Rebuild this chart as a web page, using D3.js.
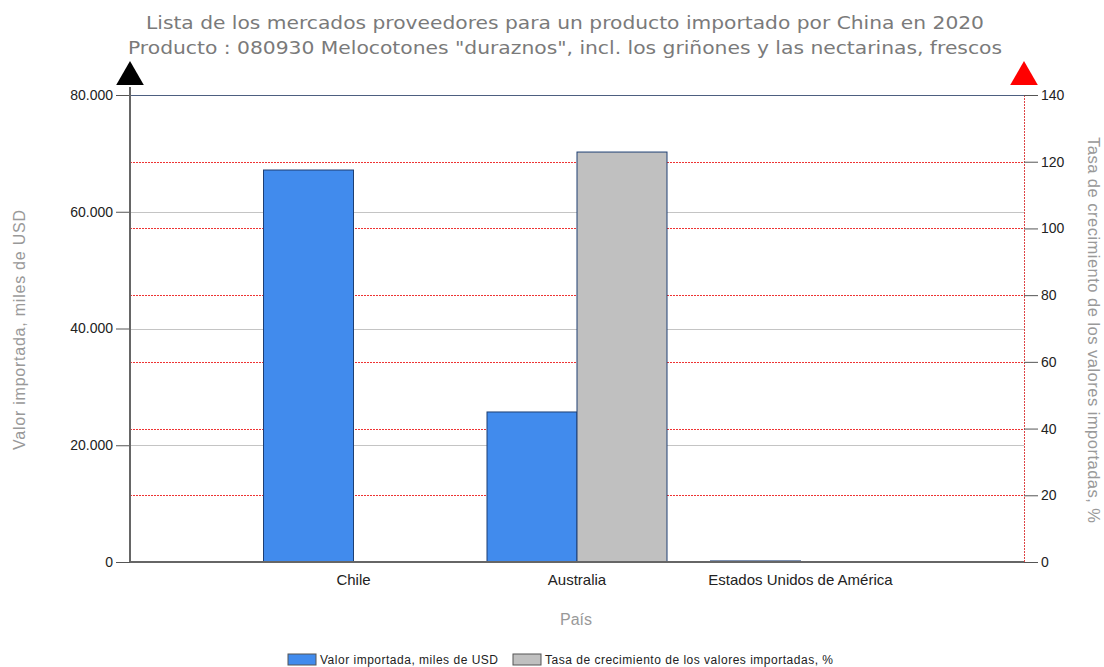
<!DOCTYPE html>
<html>
<head>
<meta charset="utf-8">
<script src="https://cdn.jsdelivr.net/npm/d3@7"></script>
<style>
  body { margin: 0; background: #fff; }
  svg { display: block; }
</style>
</head>
<body>
<svg id="chart" width="1104" height="667"></svg>
<script>
// datos
const countries = ["Chile", "Australia", "Estados Unidos de América"];
const importValues = [67150, 25700, 180];          // miles de USD
const growthRates = [null, 122.9, null];           // %
const leftTicks = [0, 20000, 40000, 60000, 80000];
const rightTicks = [0, 20, 40, 60, 80, 100, 120, 140];
const titleLines = [
    "Lista de los mercados proveedores para un producto importado por China en 2020",
    "Producto : 080930 Melocotones \"duraznos\", incl. los griñones y las nectarinas, frescos"
];
const seriesNames = ["Valor importada, miles de USD", "Tasa de crecimiento de los valores importadas, %"];

const margin = { top: 95, right: 80, bottom: 105, left: 130 };
const W = 1104, H = 667;

let svg = d3.select("#chart");
let x0 = margin.left, x1 = W - margin.right;
let y0 = H - margin.bottom, y1 = margin.top;

let fmt = d => d3.format(",")(d).replace(/,/g, ".");

// escalas
let xScale = d3.scalePoint()
    .domain(["", ...countries, " "])
    .range([x0, x1]);

let yLeft = d3.scaleLinear().domain([0, 80000]).range([y0, y1]);
let yRight = d3.scaleLinear().domain([0, 140]).range([y0, y1]);

let barW = 90;

// titulo
let titleLen = [838, 874];
svg.append("g").selectAll("text")
    .data(titleLines)
    .enter()
    .append("text")
    .attr("x", 565)
    .attr("y", (d, i) => 29 + i * 25)
    .attr("text-anchor", "middle")
    .attr("font-family", "DejaVu Sans, Verdana, sans-serif")
    .attr("font-size", 18.5)
    .attr("fill", "#7a7a7a")
    .attr("textLength", (d, i) => titleLen[i])
    .attr("lengthAdjust", "spacingAndGlyphs")
    .text(d => d);

// lineas de cuadricula gris (eje izquierdo)
svg.append("g").selectAll("line")
    .data(leftTicks.filter(d => d > 0 && d < 80000))
    .enter()
    .append("line")
    .attr("x1", x0).attr("x2", x1)
    .attr("y1", d => Math.round(yLeft(d)) + 0.5).attr("y2", d => Math.round(yLeft(d)) + 0.5)
    .attr("stroke", "#c4c4c4")
    .attr("stroke-width", 1);

// lineas de cuadricula roja punteada (eje derecho)
svg.append("g").selectAll("line")
    .data(rightTicks.filter(d => d > 0 && d < 140))
    .enter()
    .append("line")
    .attr("x1", x0).attr("x2", x1)
    .attr("y1", d => Math.round(yRight(d)) + 0.5).attr("y2", d => Math.round(yRight(d)) + 0.5)
    .attr("stroke", "#e33")
    .attr("stroke-width", 1)
    .attr("stroke-dasharray", "2,1");

// barras
svg.append("g").selectAll("rect")
    .data(countries.map((c, i) => ({ c: c, v: importValues[i] })))
    .enter()
    .append("rect")
    .attr("x", d => xScale(d.c) - barW)
    .attr("y", d => yLeft(d.v))
    .attr("width", barW)
    .attr("height", d => y0 - yLeft(d.v))
    .attr("fill", "#418bed")
    .attr("stroke", "#1e3f73")
    .attr("stroke-width", 1);

svg.append("g").selectAll("rect")
    .data(countries.map((c, i) => ({ c: c, v: growthRates[i] })).filter(d => d.v != null))
    .enter()
    .append("rect")
    .attr("x", d => xScale(d.c))
    .attr("y", d => yRight(d.v))
    .attr("width", barW)
    .attr("height", d => y0 - yRight(d.v))
    .attr("fill", "#c0c0c0")
    .attr("stroke", "#1e3f73")
    .attr("stroke-width", 1);

// borde superior
svg.append("line")
    .attr("x1", x0).attr("x2", x1)
    .attr("y1", y1 + 0.5).attr("y2", y1 + 0.5)
    .attr("stroke", "#4d5f80")
    .attr("stroke-width", 1.2);

// eje derecho (linea roja punteada)
svg.append("line")
    .attr("x1", x1 + 0.5).attr("x2", x1 + 0.5)
    .attr("y1", y1).attr("y2", y0)
    .attr("stroke", "#d44")
    .attr("stroke-width", 1)
    .attr("stroke-dasharray", "2,1");

// ejes
let leftAxis = d3.axisLeft(yLeft).tickValues(leftTicks).tickFormat(fmt).tickSize(14).tickPadding(3);
let gl = svg.append("g")
    .attr("transform", "translate(" + x0 + ",0)")
    .call(leftAxis);
gl.select(".domain").remove();
gl.selectAll(".tick line").attr("stroke", "#555");
gl.selectAll("text").attr("font-family", "Liberation Sans").attr("font-size", 14).attr("fill", "#222");

let rightAxis = d3.axisRight(yRight).tickValues(rightTicks).tickSize(14).tickPadding(3);
let gr = svg.append("g")
    .attr("transform", "translate(" + x1 + ",0)")
    .call(rightAxis);
gr.select(".domain").remove();
gr.selectAll(".tick line").attr("stroke", "#555");
gr.selectAll("text").attr("font-family", "Liberation Sans").attr("font-size", 14).attr("fill", "#222");

// eje x
svg.append("line")
    .attr("x1", x0).attr("x2", x1)
    .attr("y1", y0).attr("y2", y0)
    .attr("stroke", "#666").attr("stroke-width", 2);
svg.append("line")
    .attr("x1", x0).attr("x2", x0)
    .attr("y1", y1 - 8).attr("y2", y0)
    .attr("stroke", "#666").attr("stroke-width", 2);

svg.append("g").selectAll("text")
    .data(countries)
    .enter()
    .append("text")
    .attr("x", d => xScale(d))
    .attr("y", y0 + 23)
    .attr("text-anchor", "middle")
    .attr("font-family", "Liberation Sans")
    .attr("font-size", 15)
    .attr("fill", "#222")
    .text(d => d);

// flechas
let tri = d3.symbol(d3.symbolTriangle, 330)();
svg.append("path")
    .attr("d", tri)
    .attr("transform", "translate(" + x0 + "," + (y1 - 18) + ")")
    .attr("fill", "#000");
svg.append("path")
    .attr("d", tri)
    .attr("transform", "translate(" + x1 + "," + (y1 - 18) + ")")
    .attr("fill", "#f00");

// titulos de ejes
svg.append("text")
    .attr("transform", "translate(25,330) rotate(-90)")
    .attr("text-anchor", "middle")
    .attr("font-family", "Liberation Sans")
    .attr("font-size", 16)
    .attr("fill", "#999")
    .attr("textLength", 240)
    .text(seriesNames[0]);

svg.append("text")
    .attr("transform", "translate(1088,330) rotate(90)")
    .attr("text-anchor", "middle")
    .attr("font-family", "Liberation Sans")
    .attr("font-size", 16.5)
    .attr("fill", "#999")
    .attr("textLength", 386)
    .text(seriesNames[1]);

svg.append("text")
    .attr("x", 576)
    .attr("y", 625)
    .attr("text-anchor", "middle")
    .attr("font-family", "Liberation Sans")
    .attr("font-size", 16)
    .attr("fill", "#999")
    .text("País");

// leyenda
let legendX = [288, 513];
let legendColors = ["#418bed", "#c0c0c0"];
let legend = svg.append("g").selectAll("g")
    .data(seriesNames)
    .enter()
    .append("g")
    .attr("transform", (d, i) => "translate(" + legendX[i] + ",654)");
legend.append("rect")
    .attr("width", 28).attr("height", 11)
    .attr("fill", (d, i) => legendColors[i])
    .attr("stroke", "#555").attr("stroke-width", 1);
legend.append("text")
    .attr("x", 32).attr("y", 10)
    .attr("font-family", "Liberation Sans")
    .attr("font-size", 12)
    .attr("fill", "#222")
    .attr("textLength", (d, i) => i == 0 ? 178 : 288)
    .text(d => d);
</script>
</body>
</html>
